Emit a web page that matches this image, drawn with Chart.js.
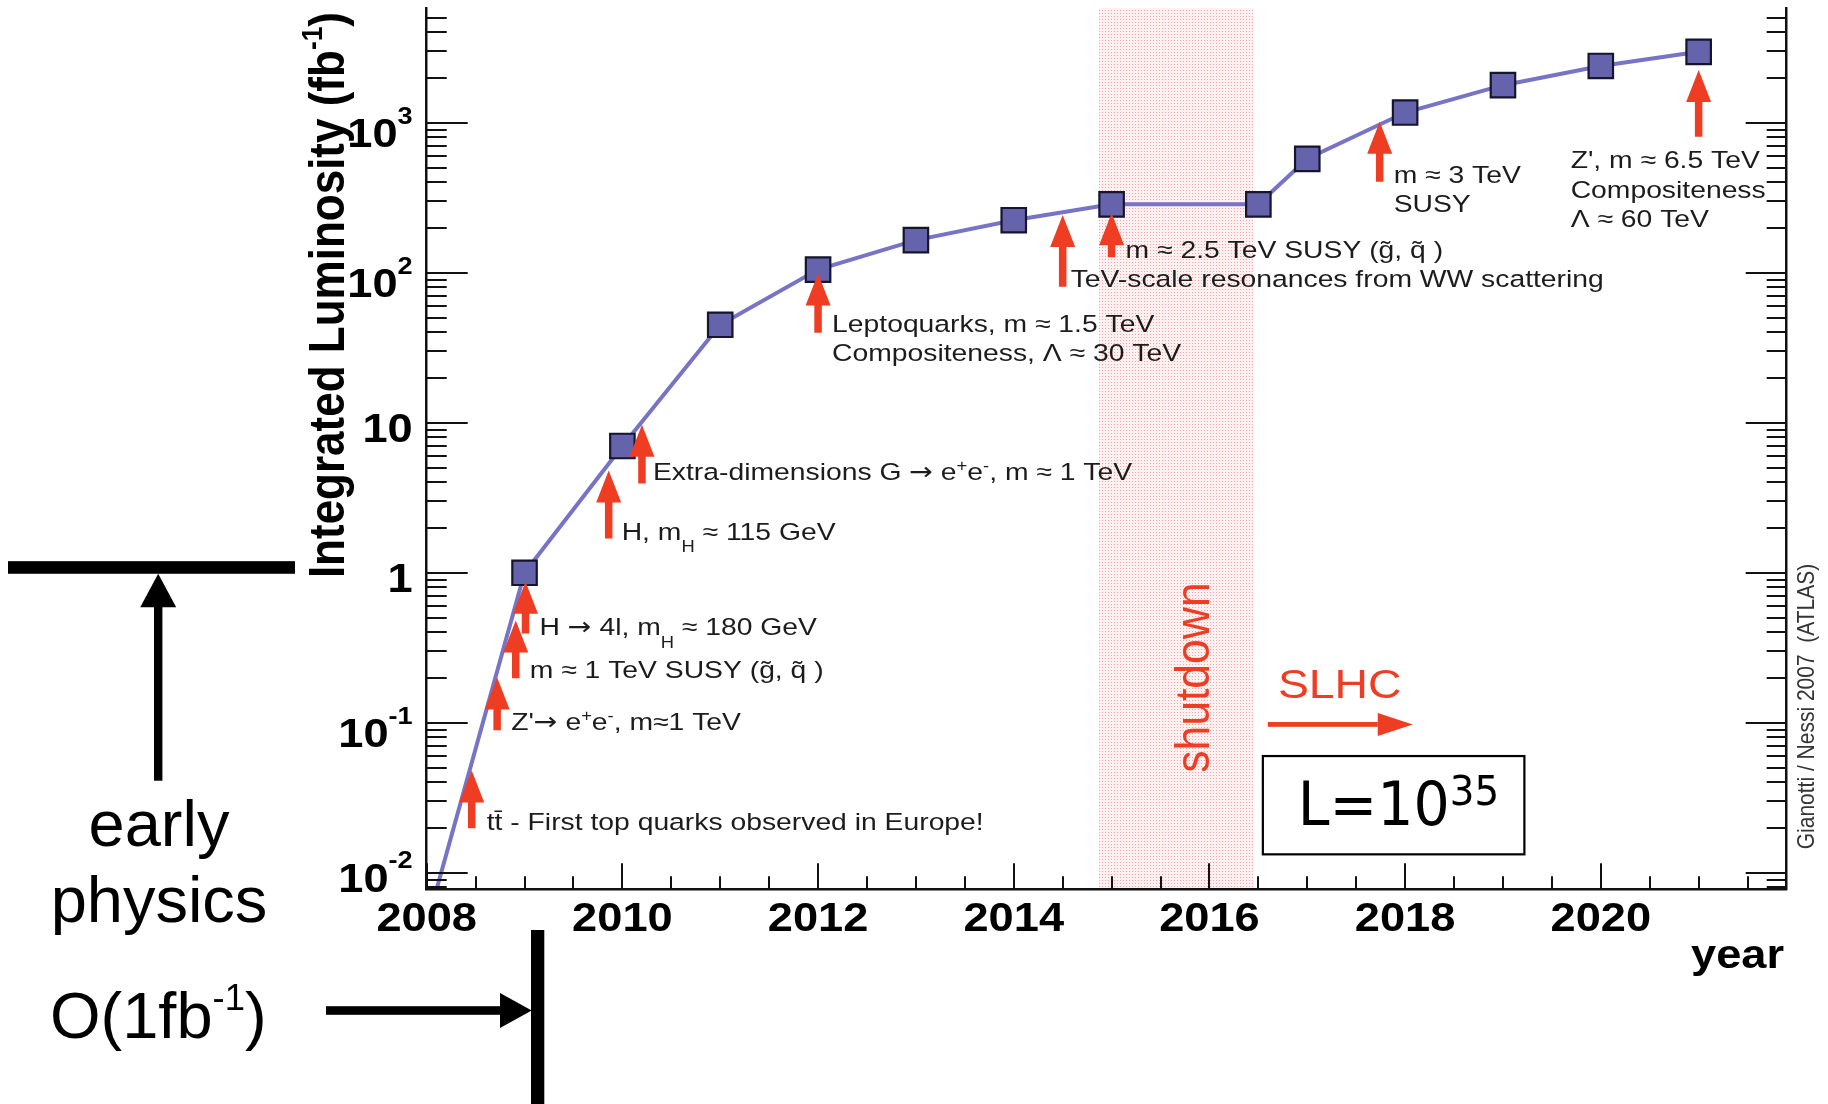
<!DOCTYPE html>
<html>
<head>
<meta charset="utf-8">
<script src="https://cdn.jsdelivr.net/npm/chart.js@4.4.1/dist/chart.umd.min.js"></script>
<style>
  html, body { margin: 0; padding: 0; background: #fff; }
  #wrap { width: 1828px; height: 1104px; position: relative; }
  canvas { display: block; }
</style>
</head>
<body>
<div id="wrap"><canvas id="c" width="1828" height="1104" style="width:1828px;height:1104px"></canvas></div>
<script>
// Integrated luminosity expected at the end of each year (fb^-1)
const years      = [2008, 2009, 2010, 2011, 2012, 2013, 2014, 2015, 2016.5, 2017, 2018, 2019, 2020, 2021];
const luminosity = [0.0045, 1.0, 7.0, 45, 105, 165, 224, 286, 286, 575, 1170, 1780, 2390, 2970];

// Shutdown period (years)
const shutdownYears = [2014.87, 2016.45];

// Physics reach: arrow position (year), tip and tail (fb^-1)
const reachYears = [2008.46, 2008.72, 2008.91, 2009.01, 2009.86, 2010.2, 2012.0, 2014.5, 2015.0, 2017.74, 2021.0];
const reachTips  = [0.048, 0.20, 0.48, 0.87, 4.8, 9.7, 99, 243, 249, 1016, 2250];
const reachTails = [0.0198, 0.089, 0.198, 0.394, 1.69, 3.94, 39.8, 80.7, 127, 404, 807];
const reachLabels = [
  ['tt\u0304 - First top quarks observed in Europe!'],
  ["Z'\u2192 e^{+}e^{-}, m\u22481 TeV"],
  ['m \u2248 1 TeV SUSY (g\u0303, q\u0303 )'],
  ['H \u2192 4l, m_{H} \u2248 180 GeV'],
  ['H, m_{H} \u2248 115 GeV'],
  ['Extra-dimensions G \u2192 e^{+}e^{-}, m \u2248 1 TeV'],
  ['Leptoquarks, m \u2248 1.5 TeV', 'Compositeness, \u039B \u2248 30 TeV'],
  ['TeV-scale resonances from WW scattering'],
  ['m \u2248 2.5 TeV SUSY (g\u0303, q\u0303 )'],
  ['m \u2248 3 TeV', 'SUSY'],
  ["Z', m \u2248 6.5 TeV", 'Compositeness', '\u039B \u2248 60 TeV']
];

// Axis ranges and ticks
const X_MIN = 2008, X_MAX = 2021.9;
const Y_MIN = 0.00776, Y_MAX = 5820;
const xTickYears  = [2008, 2010, 2012, 2014, 2016, 2018, 2020];
const xTickLabels = ['2008', '2010', '2012', '2014', '2016', '2018', '2020'];
const yTickValues = [0.01, 0.1, 1, 10, 100, 1000];
const yTickLabels = ['10^{-2}', '10^{-1}', '1', '10', '10^{2}', '10^{3}'];

// ---- styling / layout ----
const FONT = '"Liberation Sans", Arial, Helvetica, sans-serif';
const ARROW_FONT = '"DejaVu Sans", ' + FONT;
const RED = '#ee3d22';
const TEXT = '#1c1c1c';
const STRETCH = 1.13;
const NOTE_SIZE = 24.5, NOTE_STRETCH = 1.155;
// text offsets of each reach label from its arrow tail (px)
const labelOffsets = [[15, 2], [14, 0], [14, 0], [14, 2], [13, 1], [11, -3], [14, -1], [8, 0], [14, 1], [14, 1], [-128, 31.6]];
const LINE_GAP = 29.5;

// split a label into runs: ^{..} superscript, _{..} subscript, arrows in their own run
function parseRich(str) {
  const runs = [];
  let buf = '', i = 0;
  const flush = () => { if (buf) { runs.push({ t: buf, k: 0 }); buf = ''; } };
  while (i < str.length) {
    const c = str[i];
    if ((c === '^' || c === '_') && str[i + 1] === '{') {
      flush();
      const j = str.indexOf('}', i + 2);
      runs.push({ t: str.slice(i + 2, j), k: c === '^' ? 1 : -1 });
      i = j + 1;
    } else if (c === '\u2192') {
      flush();
      runs.push({ t: c, k: 0, fam: ARROW_FONT });
      i++;
    } else { buf += c; i++; }
  }
  flush();
  return runs;
}

function drawRich(ctx, str, x, y, o) {
  const runs = parseRich(str);
  const F = o.size;
  const sF = F * (o.supScale || 0.65);
  const weight = o.weight || 'normal';
  const fontOf = r => `${weight} ${r.k ? sF : F}px ${r.fam || o.family || FONT}`;
  ctx.save();
  ctx.translate(x, y);
  if (o.rot) ctx.rotate(o.rot);
  ctx.scale(o.sx || 1, o.sy || 1);
  ctx.fillStyle = o.color || TEXT;
  ctx.textAlign = 'left';
  ctx.textBaseline = 'alphabetic';
  let w = 0;
  runs.forEach(r => { ctx.font = fontOf(r); r.w = ctx.measureText(r.t).width; w += r.w; });
  let cx = o.align === 'right' ? -w : (o.align === 'center' ? -w / 2 : 0);
  runs.forEach(r => {
    ctx.font = fontOf(r);
    const dy = r.k === 1 ? -(o.supRise || 0.4) * F : (r.k === -1 ? (o.subDrop || 0.48) * F : 0);
    ctx.fillText(r.t, cx, dy);
    cx += r.w;
  });
  ctx.restore();
}

function upArrow(ctx, x, yTip, yTail, col) {
  const hw = 12.5, hl = 32, sw = 7.5;
  ctx.fillStyle = col;
  ctx.beginPath();
  ctx.moveTo(x, yTip);
  ctx.lineTo(x + hw, yTip + hl);
  ctx.lineTo(x + sw / 2, yTip + hl);
  ctx.lineTo(x + sw / 2, yTail);
  ctx.lineTo(x - sw / 2, yTail);
  ctx.lineTo(x - sw / 2, yTip + hl);
  ctx.lineTo(x - hw, yTip + hl);
  ctx.closePath();
  ctx.fill();
}

function dotPattern(ctx) {
  const c = document.createElement('canvas');
  c.width = 3; c.height = 3;
  const g = c.getContext('2d');
  g.fillStyle = 'rgba(255,220,220,0.4)';
  g.fillRect(0, 0, 3, 3);
  g.fillStyle = 'rgba(238,90,90,0.5)';
  g.fillRect(1, 1, 1, 1);
  return ctx.createPattern(c, 'repeat');
}

const decorations = {
  id: 'decorations',
  afterDraw(chart) {
    const ctx = chart.ctx;
    const area = chart.chartArea;
    const xs = chart.scales.x, ys = chart.scales.y;
    const X = v => xs.getPixelForValue(v);
    const Y = v => ys.getPixelForValue(v);

    // inward tick marks (left, right, bottom)
    ctx.save();
    ctx.strokeStyle = '#111';
    ctx.lineWidth = 2;
    ctx.beginPath();
    for (let e = -3; e <= 4; e++) {
      for (let k = 1; k <= 9; k++) {
        const v = k * Math.pow(10, e);
        if (v < Y_MIN || v > Y_MAX) continue;
        const py = Math.round(Y(v));
        const len = k === 1 ? 41 : 20;
        ctx.moveTo(area.left, py); ctx.lineTo(area.left + len, py);
        ctx.moveTo(area.right, py); ctx.lineTo(area.right - len, py);
      }
    }
    for (let t = X_MIN; t <= X_MAX + 1e-9; t += 0.5) {
      const px = Math.round(X(t));
      const len = (Math.abs(t % 2) < 1e-9) ? 26 : 13;
      ctx.moveTo(px, area.bottom); ctx.lineTo(px, area.bottom - len);
    }
    ctx.stroke();
    ctx.restore();

    // tick labels
    xTickYears.forEach((v, i) => {
      drawRich(ctx, xTickLabels[i], X(v), area.bottom + 41.4, { size: 40, weight: 'bold', sx: STRETCH, align: 'center', color: '#000' });
    });
    yTickValues.forEach((v, i) => {
      const lab = yTickLabels[i];
      const hasSup = lab.indexOf('^') >= 0;
      const base = Math.min(Y(v) + (hasSup ? 24.5 : 19.5), area.bottom + 2.4);
      drawRich(ctx, lab, area.left - 14, base, { size: 40, weight: 'bold', sx: STRETCH, align: 'right', supScale: 0.6, supRise: 0.585, color: '#000' });
    });

    // axis titles
    drawRich(ctx, 'Integrated Luminosity (fb^{-1})', area.left - 82.7, area.top + 4,
      { size: 44, weight: 'bold', rot: -Math.PI / 2, sy: STRETCH, align: 'right', supScale: 0.6, supRise: 0.45, color: '#000' });
    drawRich(ctx, 'year', area.right - 2.7, area.bottom + 78.7, { size: 40, weight: 'bold', sx: STRETCH, align: 'right', color: '#000' });

    // shutdown label
    drawRich(ctx, 'shutdown', X(2016), Y(0.2), { size: 44.5, rot: -Math.PI / 2, sy: 1.08, align: 'center', color: RED });

    // physics reach arrows and their labels
    reachYears.forEach((yr, i) => {
      const x = X(yr), tail = Y(reachTails[i]);
      upArrow(ctx, x, Y(reachTips[i]), tail, RED);
      const [dx, dy] = labelOffsets[i];
      reachLabels[i].forEach((line, j) => {
        drawRich(ctx, line, x + dx, tail + dy + j * LINE_GAP,
          { size: NOTE_SIZE, sx: NOTE_STRETCH, color: TEXT, supScale: 0.65, supRise: 0.38, subDrop: 0.5 });
      });
    });

    // SLHC
    drawRich(ctx, 'SLHC', X(2016.7), Y(0.146), { size: 41, sx: STRETCH, color: RED });
    {
      const x0 = X(2016.597), x1 = X(2018.078), yc = Y(0.0975);
      ctx.save();
      ctx.fillStyle = RED;
      ctx.fillRect(x0, yc - 2.4, x1 - 35 - x0, 4.8);
      ctx.beginPath();
      ctx.moveTo(x1, yc);
      ctx.lineTo(x1 - 35, yc - 11.5);
      ctx.lineTo(x1 - 35, yc + 11.5);
      ctx.closePath();
      ctx.fill();
      ctx.restore();
    }

    // luminosity box
    {
      const bx0 = X(2016.546), bx1 = X(2019.219), by0 = Y(0.06), by1 = Y(0.01327);
      ctx.save();
      ctx.fillStyle = '#fff';
      ctx.fillRect(bx0, by0, bx1 - bx0, by1 - by0);
      ctx.strokeStyle = '#000';
      ctx.lineWidth = 2.2;
      ctx.strokeRect(bx0, by0, bx1 - bx0, by1 - by0);
      ctx.restore();
      drawRich(ctx, 'L=10^{35}', X(2016.903), Y(0.0208), { size: 60, sx: 0.95, color: '#000', supScale: 0.68, supRise: 0.33, family: '"DejaVu Sans", ' + FONT });
    }

    // credit
    drawRich(ctx, 'Gianotti / Nessi 2007  (ATLAS)', area.right + 27.5, area.bottom - 40,
      { size: 21, rot: -Math.PI / 2, sy: STRETCH, color: '#353535' });

    // "early physics" overlay
    ctx.save();
    ctx.fillStyle = '#000';
    const y1 = Y(1);
    ctx.fillRect(8, y1 - 11.6, 287, 12.6);
    const ax = 158.2, tip = y1 + 1;
    ctx.beginPath();
    ctx.moveTo(ax, tip);
    ctx.lineTo(ax + 18, tip + 33.5);
    ctx.lineTo(ax - 18, tip + 33.5);
    ctx.closePath();
    ctx.fill();
    ctx.fillRect(ax - 4.2, tip + 33, 8.4, 780.7 - (tip + 33));
    // O(1fb-1) marker
    const vbx = 531;
    ctx.fillRect(vbx, 930, 13.3, 1104 - 930);
    const hy = 1010.5;
    ctx.fillRect(326, hy - 4.3, 176, 8.6);
    ctx.beginPath();
    ctx.moveTo(vbx + 0.7, hy);
    ctx.lineTo(500, hy - 17.5);
    ctx.lineTo(500, hy + 17.5);
    ctx.closePath();
    ctx.fill();
    ctx.restore();
    drawRich(ctx, 'early', 159, 846, { size: 65, align: 'center', color: '#000' });
    drawRich(ctx, 'physics', 159, 921.7, { size: 65, align: 'center', color: '#000' });
    drawRich(ctx, 'O(1fb^{-1})', 158.3, 1038.3, { size: 65, align: 'center', color: '#000', supScale: 0.56, supRise: 0.43 });
  }
};

const canvas = document.getElementById('c');
const ctx = canvas.getContext('2d');
const bandFill = dotPattern(ctx);

const axisBorder = { display: true, color: '#111', width: 2.5, z: 1 };

new Chart(ctx, {
  type: 'line',
  data: {
    datasets: [
      {
        label: 'Integrated luminosity',
        data: years.map((x, i) => ({ x, y: luminosity[i] })),
        borderColor: '#7773c6',
        borderWidth: 4,
        tension: 0,
        fill: false,
        pointStyle: 'rect',
        pointRadius: 17.3,
        pointBackgroundColor: '#6663ad',
        pointBorderColor: '#15152e',
        pointBorderWidth: 2.2
      },
      {
        label: 'shutdown',
        data: shutdownYears.map(x => ({ x, y: Y_MAX })),
        fill: 'start',
        backgroundColor: bandFill,
        borderColor: 'rgba(0,0,0,0)',
        borderWidth: 0,
        pointRadius: 0
      }
    ]
  },
  options: {
    responsive: false,
    animation: false,
    devicePixelRatio: 1,
    events: [],
    layout: { autoPadding: false, padding: { left: 426.7, right: 41.3, top: 8, bottom: 214.7 } },
    plugins: { legend: { display: false }, tooltip: { enabled: false } },
    scales: {
      x: {
        type: 'linear', min: X_MIN, max: X_MAX,
        grid: { display: false, drawTicks: false },
        ticks: { display: false },
        border: axisBorder
      },
      y: {
        type: 'logarithmic', position: 'left', min: Y_MIN, max: Y_MAX,
        grid: { display: false, drawTicks: false },
        ticks: { display: false },
        border: axisBorder
      },
      yRight: {
        type: 'logarithmic', axis: 'y', position: 'right', min: Y_MIN, max: Y_MAX,
        grid: { display: false, drawTicks: false },
        ticks: { display: false },
        border: axisBorder
      }
    }
  },
  plugins: [decorations]
});
</script>
</body>
</html>
